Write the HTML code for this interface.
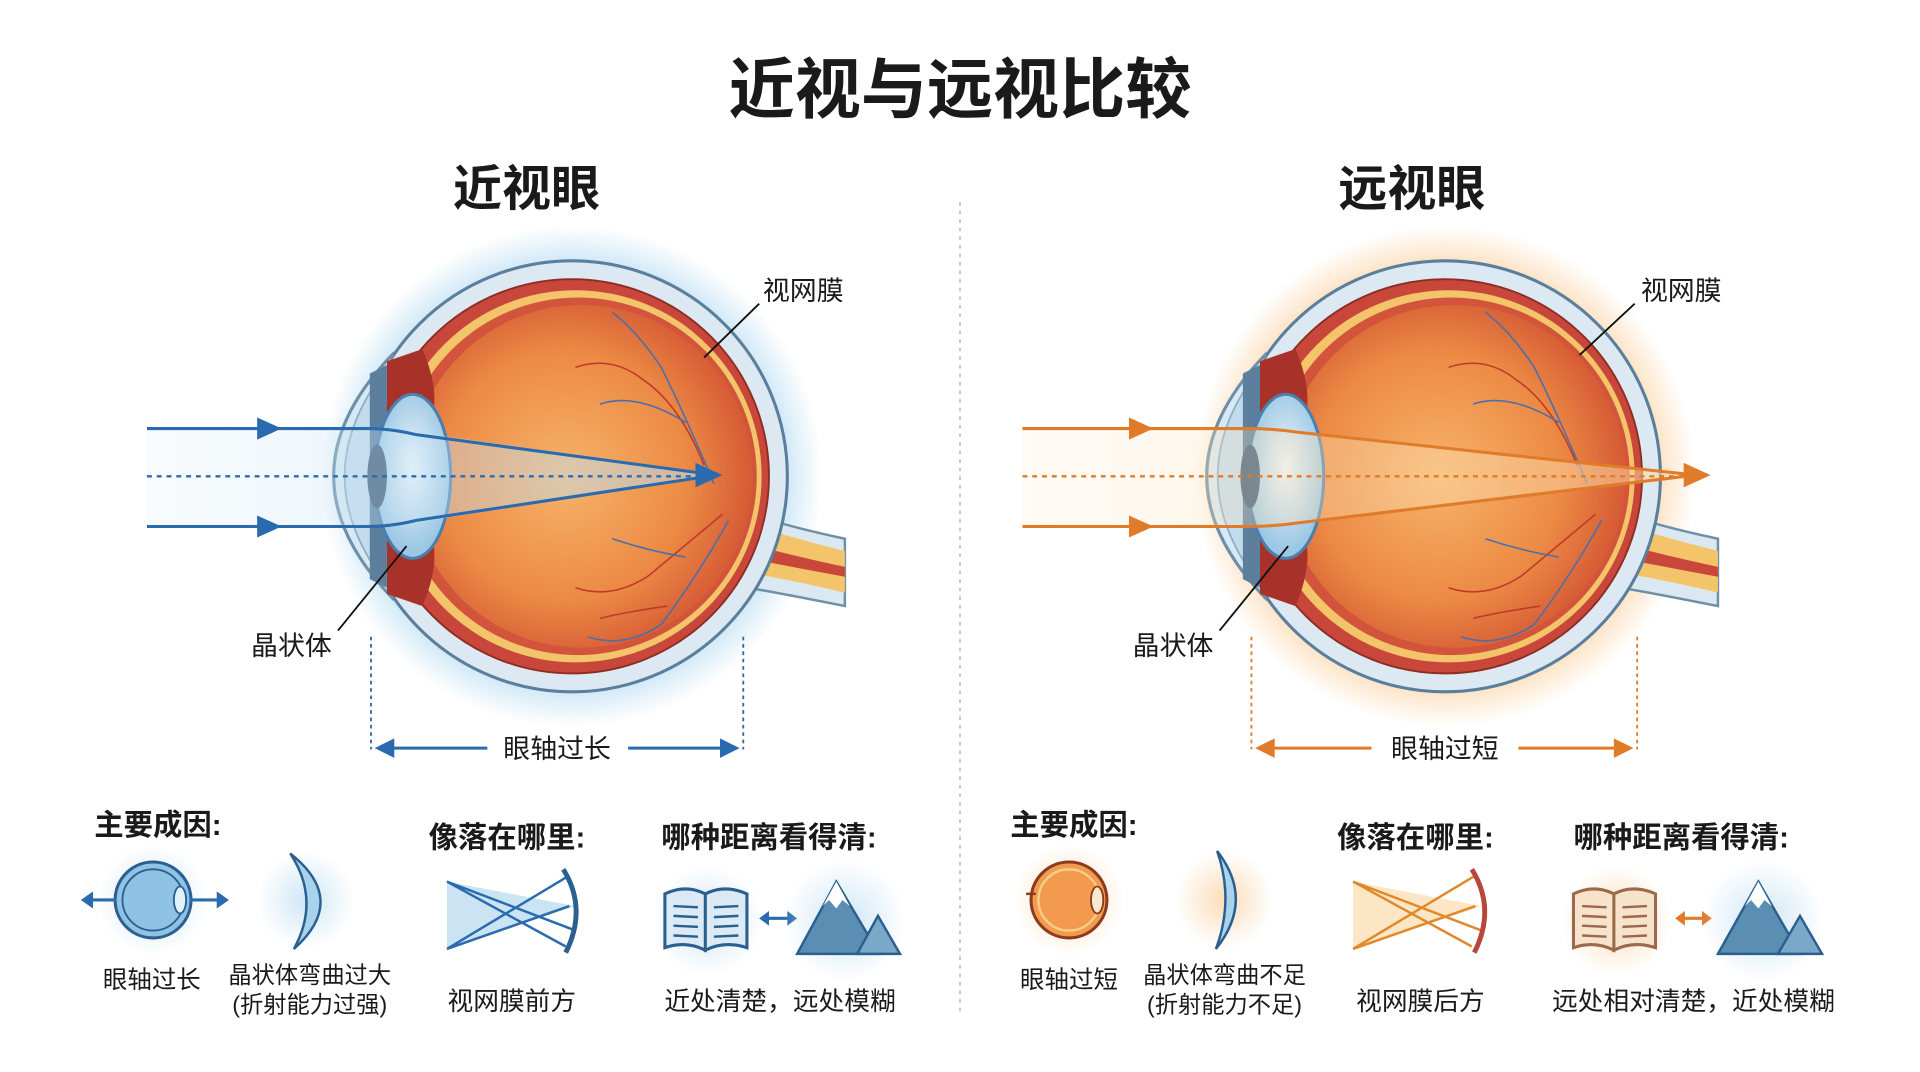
<!DOCTYPE html>
<html><head><meta charset="utf-8"><style>
html,body{margin:0;padding:0;background:#fff;}
svg{display:block;}
text{font-family:"Liberation Sans","Noto Sans CJK SC",sans-serif;fill:#1a1a1a;}
.b{font-weight:bold;}
</style></head><body>
<svg width="1920" height="1072" viewBox="0 0 1568 875.5" preserveAspectRatio="none">
<defs>
<radialGradient id="glowB"><stop offset="0.8" stop-color="#bfe0f3"/><stop offset="1" stop-color="#bfe0f3" stop-opacity="0"/></radialGradient>
<radialGradient id="glowO"><stop offset="0.8" stop-color="#fbd9b0"/><stop offset="1" stop-color="#fbd9b0" stop-opacity="0"/></radialGradient>
<radialGradient id="inner" cx="0.45" cy="0.5" r="0.6"><stop offset="0" stop-color="#f7b46a"/><stop offset="0.6" stop-color="#ec8a45"/><stop offset="1" stop-color="#cf4d30"/></radialGradient>
<radialGradient id="lens" cx="0.5" cy="0.45"><stop offset="0" stop-color="#eef7fc"/><stop offset="1" stop-color="#9cc8e4"/></radialGradient>
<linearGradient id="bandB" x1="0" x2="1"><stop offset="0" stop-color="#d6eaf6" stop-opacity="0.3"/><stop offset="1" stop-color="#b9d9ee"/></linearGradient>
<linearGradient id="bandO" x1="0" x2="1"><stop offset="0" stop-color="#fde8c8" stop-opacity="0.3"/><stop offset="1" stop-color="#fbd6a0"/></linearGradient>
<radialGradient id="icB"><stop offset="0" stop-color="#cfe6f5"/><stop offset="1" stop-color="#cfe6f5" stop-opacity="0"/></radialGradient>
<radialGradient id="icO"><stop offset="0" stop-color="#fbdcb8"/><stop offset="1" stop-color="#fbdcb8" stop-opacity="0"/></radialGradient>
<g id="eye">
  <path d="M580,408 Q620,425 690,440 L690,495 Q640,485 600,478 Z" fill="#dbe8f1" stroke="#6d8fa8" stroke-width="2"/>
  <path d="M588,420 Q630,435 690,450 L690,484 Q640,472 594,465 Z" fill="#f3c46a"/>
  <path d="M590,438 Q630,450 690,463 L690,471 Q640,462 592,452 Z" fill="#c8473a"/>
  <circle cx="467" cy="389" r="176" fill="#dde9f2" stroke="#5a7f9c" stroke-width="2.5"/>
  <path d="M320,290 Q225,389 320,488 Z" fill="#d7e9f4" stroke="#6d8fa8" stroke-width="2.5"/>
  <path d="M318,298 Q245,389 318,480" fill="#c3dced" stroke="#8fb0c6" stroke-width="1.5"/>
  <circle cx="467" cy="389" r="161" fill="#c8473a" stroke="#8b2d22" stroke-width="1.5"/>
  <circle cx="470" cy="389" r="152" fill="#f3c46a"/>
  <circle cx="472" cy="389" r="146" fill="#d2553b"/>
  <circle cx="475" cy="389" r="140" fill="url(#inner)"/>
  <path d="M316,295 L345,285 Q360,320 352,345 L352,435 Q360,460 345,495 L316,485 Z" fill="#a8322a"/>
  <path d="M302,305 L316,298 L316,480 L302,473 Z" fill="#5d7f9e"/>
  <ellipse cx="337" cy="389" rx="31" ry="67" fill="url(#lens)" stroke="#4a7fae" stroke-width="2.5"/>
  <ellipse cx="308" cy="389" rx="8" ry="26" fill="#3f5d7a"/>
  <g fill="none" stroke-width="1.3">
    <path d="M583,395 Q560,340 540,300 Q520,270 500,255" stroke="#4b6fa8"/>
    <path d="M575,380 Q555,330 525,310 Q500,290 470,300" stroke="#c0392b"/>
    <path d="M560,345 Q520,320 490,330" stroke="#4b6fa8"/>
    <path d="M590,420 Q560,445 530,470 Q500,490 470,480" stroke="#c0392b"/>
    <path d="M595,425 Q570,470 540,510 Q510,530 480,520" stroke="#4b6fa8"/>
    <path d="M560,455 Q530,450 500,440" stroke="#4b6fa8"/>
    <path d="M545,495 Q510,500 490,505" stroke="#c0392b"/>
  </g>
</g>
</defs>

<text x="784" y="92" class="b" font-size="54" text-anchor="middle">近视与远视比较</text>
<text x="430" y="168" class="b" font-size="40" text-anchor="middle">近视眼</text>
<text x="1153" y="168" class="b" font-size="40" text-anchor="middle">远视眼</text>
<line x1="784" y1="165" x2="784" y2="830" stroke="#b8b8b8" stroke-width="1.2" stroke-dasharray="3,4"/>

<circle cx="467" cy="389" r="205" fill="url(#glowB)"/>
<use href="#eye"/>
<path d="M120,350 L320,350 L585,388 L320,430 L120,430 Z" fill="url(#bandB)" opacity="0.6"/>
<line x1="120" y1="389" x2="580" y2="389" stroke="#2b6cb0" stroke-width="2" stroke-dasharray="4,4"/>
<path d="M120,350 L300,350 Q320,350 340,355 L585,388 M120,430 L300,430 Q320,430 340,425 L585,388" fill="none" stroke="#2a6aae" stroke-width="2.5"/>
<path d="M210,341 L230,350 L210,359 Z M210,421 L230,430 L210,439 Z M568,378 L590,388 L568,398 Z" fill="#2a6aae"/>
<text x="623" y="245" font-size="22">视网膜</text>
<line x1="620" y1="248" x2="575" y2="292" stroke="#111" stroke-width="1.5"/>
<text x="205" y="535" font-size="22">晶状体</text>
<line x1="276" y1="515" x2="332" y2="446" stroke="#111" stroke-width="1.5"/>
<line x1="303" y1="520" x2="303" y2="612" stroke="#2a6aae" stroke-width="1.5" stroke-dasharray="3,3"/>
<line x1="607" y1="520" x2="607" y2="612" stroke="#2a6aae" stroke-width="1.5" stroke-dasharray="3,3"/>
<line x1="320" y1="611" x2="398" y2="611" stroke="#2a6aae" stroke-width="2.5"/>
<line x1="513" y1="611" x2="590" y2="611" stroke="#2a6aae" stroke-width="2.5"/>
<path d="M306,611 L322,603 L322,619 Z M604,611 L588,603 L588,619 Z" fill="#2a6aae"/>
<text x="455" y="619" font-size="22" text-anchor="middle">眼轴过长</text>

<circle cx="1180" cy="389" r="205" fill="url(#glowO)"/>
<g transform="translate(713,0)"><use href="#eye"/></g>
<path d="M835,350 L1035,350 L1395,388 L1035,430 L835,430 Z" fill="url(#bandO)" opacity="0.6"/>
<line x1="835" y1="389" x2="1380" y2="389" stroke="#e07b2a" stroke-width="2" stroke-dasharray="4,4"/>
<path d="M835,350 L1020,350 Q1040,350 1060,353 L1385,388 M835,430 L1020,430 Q1040,430 1060,427 L1385,388" fill="none" stroke="#e07b2a" stroke-width="2.5"/>
<path d="M922,341 L942,350 L922,359 Z M922,421 L942,430 L922,439 Z M1375,378 L1397,388 L1375,398 Z" fill="#e07b2a"/>
<text x="1340" y="245" font-size="22">视网膜</text>
<line x1="1335" y1="248" x2="1290" y2="290" stroke="#111" stroke-width="1.5"/>
<text x="925" y="535" font-size="22">晶状体</text>
<line x1="996" y1="515" x2="1052" y2="446" stroke="#111" stroke-width="1.5"/>
<line x1="1022" y1="520" x2="1022" y2="612" stroke="#e07b2a" stroke-width="1.5" stroke-dasharray="3,3"/>
<line x1="1337" y1="520" x2="1337" y2="612" stroke="#e07b2a" stroke-width="1.5" stroke-dasharray="3,3"/>
<line x1="1040" y1="611" x2="1120" y2="611" stroke="#e07b2a" stroke-width="2.5"/>
<line x1="1240" y1="611" x2="1320" y2="611" stroke="#e07b2a" stroke-width="2.5"/>
<path d="M1025,611 L1041,603 L1041,619 Z M1334,611 L1318,603 L1318,619 Z" fill="#e07b2a"/>
<text x="1180" y="619" font-size="22" text-anchor="middle">眼轴过短</text>

<text x="77" y="682" class="b" font-size="24">主要成因:</text>
<text x="350" y="692" class="b" font-size="24">像落在哪里:</text>
<text x="540" y="692" class="b" font-size="24">哪种距离看得清:</text>
<circle cx="125" cy="735" r="45" fill="url(#icB)"/>
<circle cx="125" cy="735" r="31" fill="#8ec3e6" stroke="#2a5f8f" stroke-width="2.5"/>
<circle cx="125" cy="735" r="25" fill="none" stroke="#2a5f8f" stroke-width="1.5"/>
<ellipse cx="147" cy="735" rx="5" ry="11" fill="#e3f1fa" stroke="#2a5f8f" stroke-width="1.5"/>
<path d="M95,735 L70,735 M155,735 L182,735" stroke="#2a6aae" stroke-width="2.5"/>
<path d="M66,735 L76,728 L76,742 Z M187,735 L177,728 L177,742 Z" fill="#2a6aae"/>
<circle cx="250" cy="735" r="40" fill="url(#icB)"/>
<path d="M237,697 Q285,735 240,775 Q262,735 237,697 Z" fill="#a9d2ec" stroke="#2a5f8f" stroke-width="2"/>
<text x="124" y="807" font-size="20" text-anchor="middle">眼轴过长</text>
<text x="253" y="803" font-size="19" text-anchor="middle">晶状体弯曲过大</text>
<text x="253" y="827" font-size="19" text-anchor="middle">(折射能力过强)</text>
<path d="M365,720 L470,740 L365,775 Z" fill="#a9d2ec" opacity="0.6"/>
<path d="M365,720 L470,760 M365,775 L465,715 M365,720 L462,773 M365,775 L465,740" stroke="#2a6aae" stroke-width="2" fill="none"/>
<path d="M460,710 Q480,742 462,778" stroke="#2a5f8f" stroke-width="4" fill="none"/>
<text x="418" y="825" font-size="21" text-anchor="middle">视网膜前方</text>
<circle cx="578" cy="752" r="45" fill="url(#icB)"/>
<path d="M543,730 Q560,722 576,730 L576,776 Q560,768 543,774 Z M576,730 Q592,722 610,730 L610,774 Q592,768 576,776 Z" fill="#dbeaf5" stroke="#2a5f8f" stroke-width="2.5"/>
<path d="M550,740 L570,741 M550,748 L570,749 M550,756 L570,757 M550,764 L570,765 M583,741 L603,740 M583,749 L603,748 M583,757 L603,756 M583,765 L603,764" stroke="#2a5f8f" stroke-width="2"/>
<path d="M623,750 L647,750" stroke="#2a6aae" stroke-width="2.5"/>
<path d="M620,750 L628,744 L628,756 Z M651,750 L643,744 L643,756 Z" fill="#2a6aae"/>
<circle cx="690" cy="752" r="50" fill="url(#icB)"/>
<path d="M651,779 L683,720 L718,779 Z" fill="#5a8fb3" stroke="#2a5f8f" stroke-width="2"/>
<path d="M700,779 L717,748 L735,779 Z" fill="#7aa8c8" stroke="#2a5f8f" stroke-width="2"/>
<path d="M672,740 L683,720 L694,740 L688,735 L683,742 L677,735 Z" fill="#fff"/>
<text x="637" y="825" font-size="21" text-anchor="middle">近处清楚，远处模糊</text>

<text x="825" y="682" class="b" font-size="24">主要成因:</text>
<text x="1092" y="692" class="b" font-size="24">像落在哪里:</text>
<text x="1285" y="692" class="b" font-size="24">哪种距离看得清:</text>
<circle cx="873" cy="735" r="45" fill="url(#icO)"/>
<circle cx="873" cy="735" r="31" fill="#f29a4e" stroke="#8b3a1e" stroke-width="2.5"/>
<circle cx="873" cy="735" r="25" fill="none" stroke="#f5cf8a" stroke-width="2"/>
<ellipse cx="896" cy="735" rx="5" ry="11" fill="#fbe8d0" stroke="#8b3a1e" stroke-width="1.5"/>
<path d="M838,730 L846,730" stroke="#8b3a1e" stroke-width="2"/>
<circle cx="1000" cy="735" r="40" fill="url(#icO)"/>
<path d="M994,695 Q1025,735 993,775 Q1008,735 994,695 Z" fill="#a9d2ec" stroke="#2a5f8f" stroke-width="2"/>
<text x="873" y="807" font-size="20" text-anchor="middle">眼轴过短</text>
<text x="1000" y="803" font-size="19" text-anchor="middle">晶状体弯曲不足</text>
<text x="1000" y="827" font-size="19" text-anchor="middle">(折射能力不足)</text>
<path d="M1105,720 L1210,740 L1105,775 Z" fill="#fbd6a0" opacity="0.6"/>
<path d="M1105,720 L1210,760 M1105,775 L1205,715 M1105,720 L1202,773 M1105,775 L1205,740" stroke="#e0892a" stroke-width="2" fill="none"/>
<path d="M1202,710 Q1222,742 1204,778" stroke="#b8463a" stroke-width="4" fill="none"/>
<text x="1160" y="825" font-size="21" text-anchor="middle">视网膜后方</text>
<circle cx="1320" cy="752" r="45" fill="url(#icO)"/>
<path d="M1285,730 Q1302,722 1318,730 L1318,776 Q1302,768 1285,774 Z M1318,730 Q1334,722 1352,730 L1352,774 Q1334,768 1318,776 Z" fill="#f7e3cc" stroke="#9a6a4a" stroke-width="2.5"/>
<path d="M1292,740 L1312,741 M1292,748 L1312,749 M1292,756 L1312,757 M1292,764 L1312,765 M1325,741 L1345,740 M1325,749 L1345,748 M1325,757 L1345,756 M1325,765 L1345,764" stroke="#9a6a4a" stroke-width="2"/>
<path d="M1372,750 L1394,750" stroke="#e07b2a" stroke-width="2.5"/>
<path d="M1368,750 L1376,744 L1376,756 Z M1398,750 L1390,744 L1390,756 Z" fill="#e07b2a"/>
<circle cx="1440" cy="752" r="50" fill="url(#icB)"/>
<path d="M1403,779 L1436,720 L1470,779 Z" fill="#5a8fb3" stroke="#2a5f8f" stroke-width="2"/>
<path d="M1452,779 L1470,748 L1488,779 Z" fill="#7aa8c8" stroke="#2a5f8f" stroke-width="2"/>
<path d="M1425,740 L1436,720 L1447,740 L1441,735 L1436,742 L1430,735 Z" fill="#fff"/>
<text x="1383" y="825" font-size="21" text-anchor="middle">远处相对清楚，近处模糊</text>
</svg>
</body></html>
